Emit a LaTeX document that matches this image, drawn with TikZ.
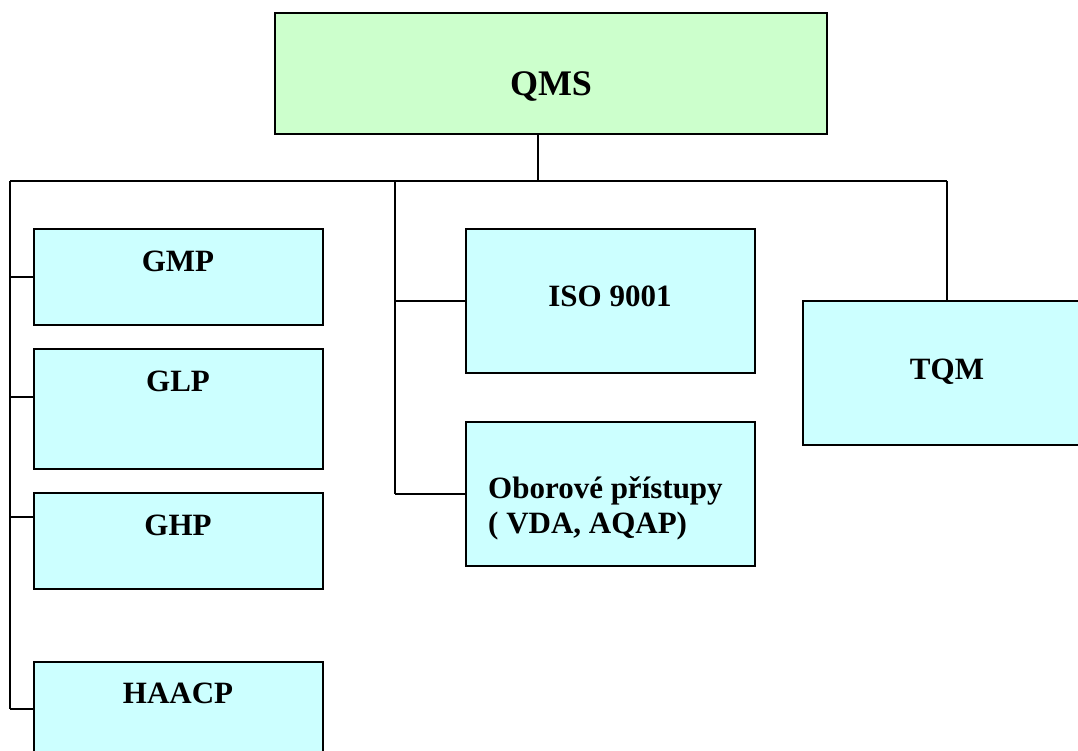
\documentclass[tikz,border=0pt]{standalone}
\usepackage{fontspec}
\setmainfont{Liberation Serif}
\definecolor{boxgreen}{HTML}{CCFFCC}
\definecolor{boxcyan}{HTML}{CCFFFF}
\begin{document}
\begin{tikzpicture}[x=1pt,y=-1pt,
  box/.style={draw=black, line width=1.8pt, fill=boxcyan, anchor=north west, inner sep=0pt, outer sep=0pt},
  conn/.style={draw=black, line width=1.3pt},
  lbl/.style={font=\fontsize{31}{35}\selectfont\bfseries, inner sep=0pt, anchor=base}]
\useasboundingbox (0,0) rectangle (1078,751);
\clip (0,0) rectangle (1078,751);
% boxes
\node[box, fill=boxgreen, minimum width=552pt, minimum height=121pt] (qms) at (275,13) {};
\node[box, line width=2.6pt, minimum width=289pt, minimum height=96pt] (gmp) at (34,229) {};
\node[box, minimum width=289pt, minimum height=120pt] (glp) at (34,349) {};
\node[box, minimum width=289pt, minimum height=96pt] (ghp) at (34,493) {};
\node[box, minimum width=289pt, minimum height=94pt] (haacp) at (34,662) {};
\node[box, minimum width=289pt, minimum height=144pt] (iso) at (466,229) {};
\node[box, minimum width=289pt, minimum height=144pt] (obor) at (466,422) {};
\node[box, minimum width=288pt, minimum height=144pt] (tqm) at (803,301) {};
% labels
\node[lbl, font=\fontsize{36}{40}\selectfont\bfseries] (tqms) at (551,96) {QMS};
\node[lbl] (tgmp) at (178,271) {GMP};
\node[lbl] (tglp) at (178,391) {GLP};
\node[lbl] (tghp) at (178,535) {GHP};
\node[lbl] (thaacp) at (178,703) {HAACP};
\node[lbl] (tiso) at (610,306) {ISO 9001};
\node[lbl] (ttqm) at (947,379) {TQM};
\node[lbl, anchor=base west, align=left] (tobor) at (488,533) {Oborové přístupy\\( VDA, AQAP)};
% bus coordinates
\coordinate (bl) at (10,181);
\coordinate (br) at (947,181);
\coordinate (bm) at (395,181);
\coordinate (qt) at (538,181);
\coordinate (glpt) at (34,397);
\coordinate (ghpt) at (34,517);
% connectors
\draw[conn] (qt |- qms.south) -- (qt);
\draw[conn] (bl) -- (br);
\draw[conn] (br) -- (tqm.north);
\draw[conn] (bl) -- (bl |- haacp.west);
\draw[conn] (bl |- gmp.west) -- (gmp.west);
\draw[conn] (bl |- glpt) -- (glpt);
\draw[conn] (bl |- ghpt) -- (ghpt);
\draw[conn] (bl |- haacp.west) -- (haacp.west);
\draw[conn] (bm) -- (bm |- obor.west);
\draw[conn] (bm |- iso.west) -- (iso.west);
\draw[conn] (bm |- obor.west) -- (obor.west);
\end{tikzpicture}
\end{document}
